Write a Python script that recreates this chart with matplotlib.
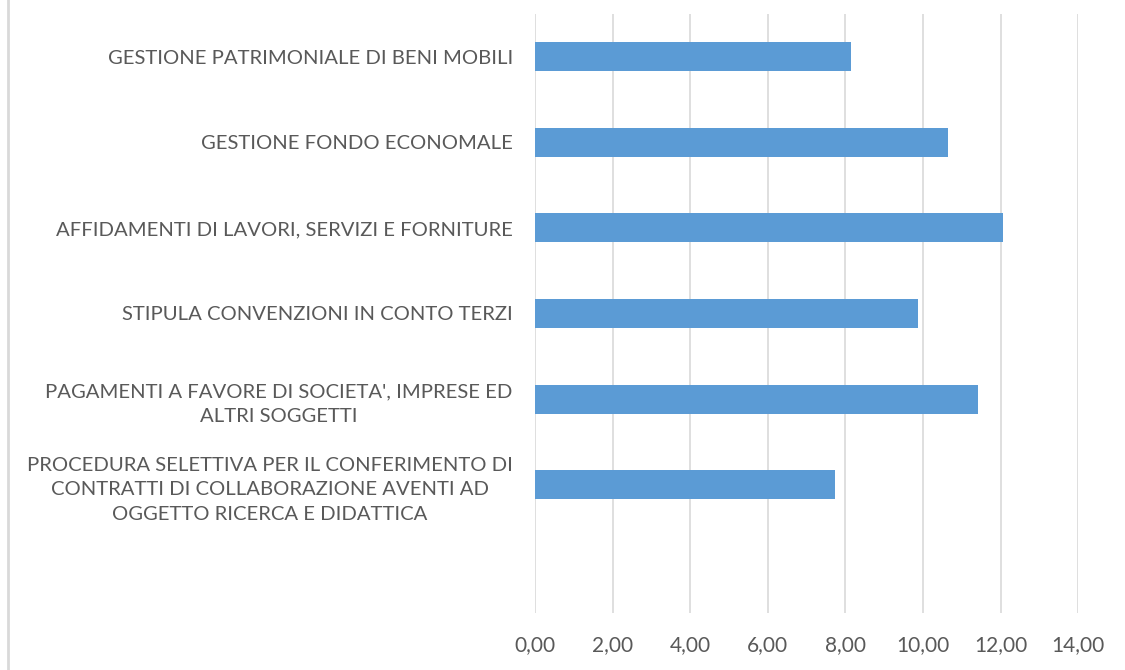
import matplotlib
matplotlib.use("Agg")
import matplotlib.pyplot as plt
from matplotlib.lines import Line2D

# data
categories = [
    "GESTIONE PATRIMONIALE DI BENI MOBILI",
    "GESTIONE FONDO ECONOMALE",
    "AFFIDAMENTI DI LAVORI, SERVIZI E FORNITURE",
    "STIPULA CONVENZIONI IN CONTO TERZI",
    "PAGAMENTI A FAVORE DI SOCIETA', IMPRESE ED\nALTRI SOGGETTI",
    "PROCEDURA SELETTIVA PER IL CONFERIMENTO DI\nCONTRATTI DI COLLABORAZIONE AVENTI AD\nOGGETTO RICERCA E DIDATTICA",
]
values = [8.15, 10.65, 12.07, 9.88, 11.42, 7.74]
xticks = [0, 2, 4, 6, 8, 10, 12, 14]
xtick_labels = ["0,00", "2,00", "4,00", "6,00", "8,00", "10,00", "12,00", "14,00"]

plt.rcParams['font.family'] = ['Lato', 'DejaVu Sans']
txt_color = '#595959'

fig = plt.figure(figsize=(11.25, 6.7), dpi=100)
ax = fig.add_axes([0.4756, 0.0851, 0.4827, 0.894])

ypos = list(range(len(categories)))
ax.barh(ypos, values, height=0.34, color='#5B9BD5', zorder=3)

ax.set_xlim(0, 14)
ax.set_ylim(len(categories) + 0.5, -0.5)
ax.set_xticks(xticks)
ax.set_xticklabels(xtick_labels, fontsize=15, color=txt_color)
ax.set_yticks(ypos)
ax.set_yticklabels(categories, fontsize=14.6, color=txt_color, multialignment='center')
for lbl in ax.get_yticklabels():
    lbl.set_linespacing(1.55)
ax.tick_params(axis='both', length=0)
ax.tick_params(axis='x', pad=16)
ax.tick_params(axis='y', pad=16)

ax.grid(axis='x', color='#d9d9d9', linewidth=1.2, zorder=0)
for s in ax.spines.values():
    s.set_visible(False)

# left border of the chart frame
fig.add_artist(Line2D([0.0067, 0.0067], [0, 1], color='#d9d9d9', linewidth=2, transform=fig.transFigure))

plt.savefig('out.png', dpi=100)
